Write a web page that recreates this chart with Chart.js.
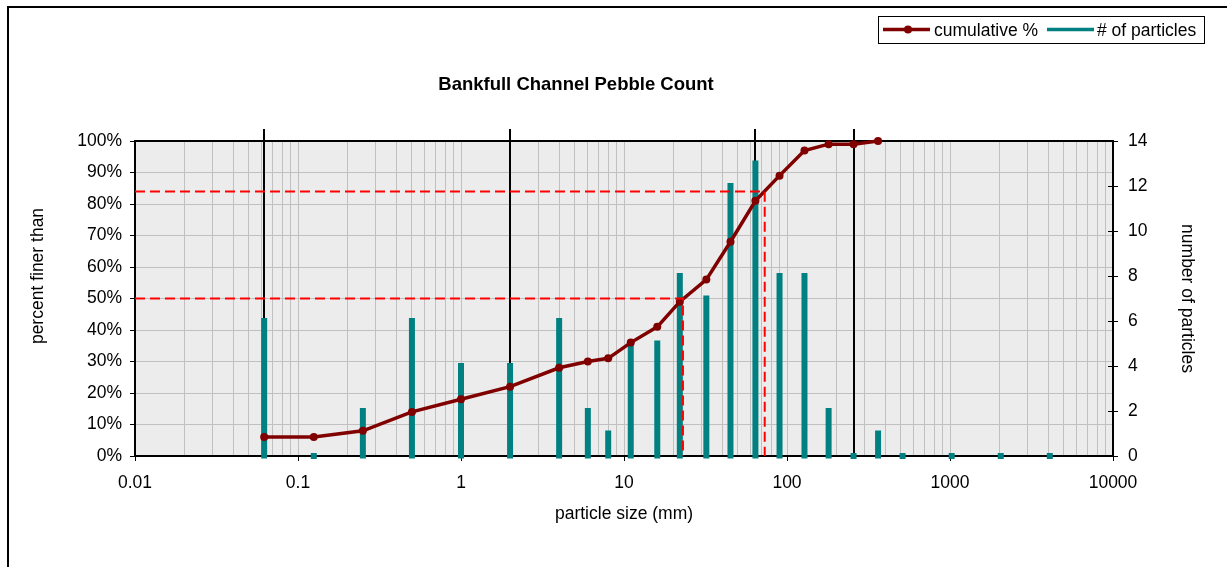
<!DOCTYPE html>
<html>
<head>
<meta charset="utf-8">
<title>Bankfull Channel Pebble Count</title>
<script src="https://cdn.jsdelivr.net/npm/chart.js@4/dist/chart.umd.min.js"></script>
<style>
  html, body { margin: 0; padding: 0; background: #fff; }
  #wrap { width: 1227px; height: 567px; }
</style>
</head>
<body>
<div id="wrap"><canvas id="pebble-chart" width="1227" height="567"></canvas></div>
<script>
// size classes (mm) and the pebble tally
const sizeClasses = [0.062, 0.125, 0.25, 0.5, 1, 2, 4, 6, 8, 11, 16, 22, 32, 45, 64, 90, 128, 180, 256, 362, 512, 1024, 2048, 4096];
const particleCounts = [6, 0, 2, 6, 4, 4, 6, 2, 1, 5, 5, 8, 7, 12, 13, 8, 8, 2, 0, 1, 0, 0, 0, 0];
const cumulativePercent = [6, 6, 8, 14, 18, 22, 28, 30, 31, 36, 41, 49, 56, 68, 81, 89, 97, 99, 99, 100];

// D50 / D84 guides and the silt/sand/gravel/cobble/boulder limits
const d50 = { size: 23, percent: 50 };
const d84 = { size: 73, percent: 84 };
const classLimits = [0.062, 2, 64, 256];

const xDecades = [0.01, 0.1, 1, 10, 100, 1000, 10000];
const xTickLabels = ["0.01", "0.1", "1", "10", "100", "1000", "10000"];

const COLORS = {
  cumulative: "#800000",
  particles: "#008080",
  guide: "#ff0000",
  plotBg: "#ececec",
  grid: "#c0c0c0",
  ink: "#000000",
};
const FONT = '"Liberation Sans", Arial, sans-serif';

Chart.defaults.font.family = FONT;
Chart.defaults.font.size = 17.5;
Chart.defaults.color = COLORS.ink;

// 1..9 of every decade, for the log grid
const xGridValues = [];
xDecades.slice(0, -1).forEach((d) => {
  for (let k = 1; k < 10; k++) xGridValues.push(k * d);
});
xGridValues.push(xDecades[xDecades.length - 1]);

function guideData(g) {
  return [
    { x: xDecades[0], y: g.percent },
    { x: g.size, y: g.percent },
    { x: g.size, y: 0 },
  ];
}

const pebbleFrame = {
  id: "pebbleFrame",
  beforeDraw(chart) {
    const { ctx, chartArea: a } = chart;
    ctx.save();
    ctx.fillStyle = COLORS.plotBg;
    ctx.fillRect(a.left, a.top, a.right - a.left, a.bottom - a.top);
    // outer frame runs off the right and bottom edge, as in the source
    ctx.strokeStyle = COLORS.ink;
    ctx.lineWidth = 2;
    ctx.strokeRect(8, 7, chart.width + 20, chart.height + 20);
    ctx.restore();
  },
  beforeDatasetsDraw(chart) {
    const { ctx, chartArea: a, scales } = chart;
    const { x, y, y1 } = scales;
    ctx.save();
    ctx.strokeStyle = COLORS.ink;
    ctx.lineWidth = 2;
    ctx.strokeRect(a.left, a.top, a.right - a.left, a.bottom - a.top);

    classLimits.forEach((v) => {
      const px = Math.round(x.getPixelForValue(v));
      const top = y.getPixelForValue(100);
      ctx.beginPath();
      ctx.moveTo(px, y.getPixelForValue(0));
      ctx.lineTo(px, top - 12);
      ctx.moveTo(px - 11, top);
      ctx.lineTo(px + 11, top);
      ctx.stroke();
    });

    // right axis tick marks also reach into the plot
    ctx.lineWidth = 1;
    ctx.beginPath();
    y1.ticks.forEach((t) => {
      const py = Math.round(y1.getPixelForValue(t.value)) + 0.5;
      ctx.moveTo(a.right - 5, py);
      ctx.lineTo(a.right, py);
    });
    ctx.stroke();
    ctx.restore();
  },
  afterDraw(chart) {
    const { ctx } = chart;
    const sets = chart.data.datasets;
    const cum = sets.find((d) => d.label === "cumulative %");
    const cnt = sets.find((d) => d.label === "# of particles");
    ctx.save();

    ctx.fillStyle = COLORS.ink;
    ctx.font = `bold 18.5px ${FONT}`;
    ctx.textAlign = "center";
    ctx.textBaseline = "alphabetic";
    ctx.fillText("Bankfull Channel Pebble Count", 576, 90);

    // left axis title sits a little above the plot middle in the source
    ctx.font = `17.5px ${FONT}`;
    ctx.save();
    ctx.translate(38, 276);
    ctx.rotate(-Math.PI / 2);
    ctx.textBaseline = "middle";
    ctx.fillText("percent finer than", 0, 0);
    ctx.restore();

    // legend box
    ctx.strokeStyle = COLORS.ink;
    ctx.lineWidth = 1;
    ctx.strokeRect(878.5, 16.5, 326, 27);
    ctx.lineWidth = 3.5;
    ctx.strokeStyle = cum.borderColor;
    ctx.beginPath();
    ctx.moveTo(883, 29.5);
    ctx.lineTo(930, 29.5);
    ctx.stroke();
    ctx.fillStyle = cum.borderColor;
    ctx.beginPath();
    ctx.arc(908, 29.5, 4, 0, Math.PI * 2);
    ctx.fill();
    ctx.strokeStyle = cnt.backgroundColor;
    ctx.beginPath();
    ctx.moveTo(1047, 29.5);
    ctx.lineTo(1094, 29.5);
    ctx.stroke();

    ctx.fillStyle = COLORS.ink;
    ctx.textAlign = "left";
    ctx.fillText(cum.label, 934, 36);
    ctx.fillText(cnt.label, 1097, 36);
    ctx.restore();
  },
};

const ctx = document.getElementById("pebble-chart").getContext("2d");
new Chart(ctx, {
  type: "line",
  data: {
    datasets: [
      {
        label: "D84",
        data: guideData(d84),
        yAxisID: "y",
        borderColor: COLORS.guide,
        borderWidth: 2,
        borderDash: [10, 5],
        pointRadius: 0,
        fill: false,
        clip: false,
        order: 0,
      },
      {
        label: "D50",
        data: guideData(d50),
        yAxisID: "y",
        borderColor: COLORS.guide,
        borderWidth: 2,
        borderDash: [10, 5],
        pointRadius: 0,
        fill: false,
        clip: false,
        order: 0,
      },
      {
        label: "cumulative %",
        data: cumulativePercent.map((y, i) => ({ x: sizeClasses[i], y })),
        yAxisID: "y",
        borderColor: COLORS.cumulative,
        backgroundColor: COLORS.cumulative,
        borderWidth: 3.5,
        pointRadius: 4,
        pointBorderWidth: 0,
        pointBackgroundColor: COLORS.cumulative,
        tension: 0,
        fill: false,
        clip: false,
        order: 1,
      },
      {
        type: "bar",
        label: "# of particles",
        data: particleCounts.map((y, i) => ({ x: sizeClasses[i], y })),
        yAxisID: "y1",
        backgroundColor: COLORS.particles,
        barThickness: 0,
        inflateAmount: 3,
        borderWidth: 0,
        clip: false,
        order: 2,
      },
    ],
  },
  options: {
    responsive: false,
    animation: false,
    devicePixelRatio: 1,
    layout: { padding: { top: 141, left: 0, right: 0, bottom: 0 } },
    plugins: {
      legend: { display: false },
      title: { display: false },
      tooltip: { enabled: false },
    },
    scales: {
      x: {
        type: "logarithmic",
        position: "bottom",
        min: xDecades[0],
        max: xDecades[xDecades.length - 1],
        offset: false,
        afterBuildTicks: (scale) => {
          scale.ticks = xGridValues.map((value) => ({ value }));
        },
        afterFit: (scale) => {
          scale.height = 111;
        },
        grid: {
          offset: false,
          color: COLORS.grid,
          lineWidth: 1,
          tickLength: 5,
          tickColor: (c) => (xDecades.includes(c.tick && c.tick.value) ? COLORS.ink : "rgba(0,0,0,0)"),
        },
        border: { display: true, color: COLORS.ink, width: 2 },
        ticks: {
          autoSkip: false,
          maxRotation: 0,
          padding: 12,
          callback: (value) => {
            const i = xDecades.indexOf(value);
            return i >= 0 ? xTickLabels[i] : "";
          },
        },
        title: {
          display: true,
          text: "particle size (mm)",
          padding: { top: 0, bottom: 42 },
        },
      },
      y: {
        type: "linear",
        position: "left",
        min: 0,
        max: 100,
        afterFit: (scale) => {
          scale.width = 135;
        },
        ticks: { stepSize: 10, padding: 8, callback: (v) => `${v}%` },
        grid: { color: COLORS.grid, lineWidth: 1, tickLength: 5, tickColor: COLORS.ink },
        border: { display: true, color: COLORS.ink, width: 2 },
        title: { display: false },
      },
      y1: {
        type: "linear",
        position: "right",
        min: 0,
        max: 14,
        afterFit: (scale) => {
          scale.width = 114;
        },
        ticks: { stepSize: 2, padding: 10 },
        grid: { drawOnChartArea: false, tickLength: 5, tickColor: COLORS.ink },
        border: { display: true, color: COLORS.ink, width: 2 },
        title: {
          display: true,
          text: "number of particles",
          padding: { top: 30, bottom: 0 },
        },
      },
    },
  },
  plugins: [pebbleFrame],
});
</script>
</body>
</html>
